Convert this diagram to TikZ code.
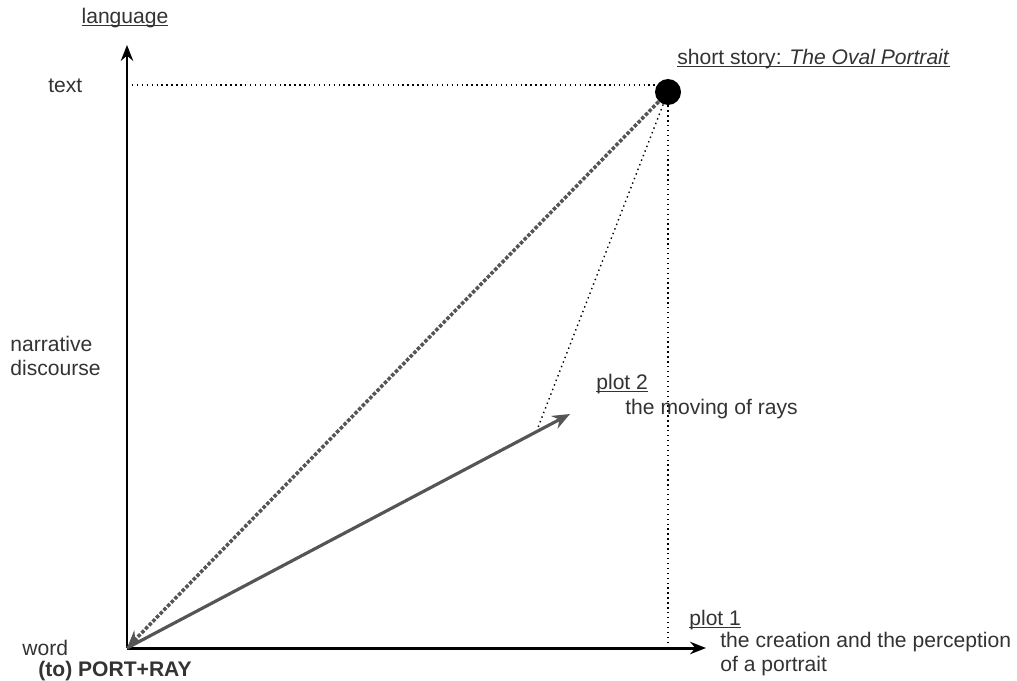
\documentclass[tikz,border=0pt]{standalone}
\usepackage{fontspec}
\setmainfont{Liberation Sans}
\usetikzlibrary{arrows.meta}
\definecolor{ink}{HTML}{333333}
\definecolor{ray}{HTML}{555555}
\newcommand{\uln}[1]{\underline{\smash{#1}}}
\tikzset{
  axis/.style={line width=1.7pt,-{Stealth[length=9pt,width=7pt]}},
  lbl/.style={font=\fontsize{12}{14}\selectfont,text=ink,inner sep=0pt,anchor=west},
  guide/.style={dotted,line width=0.8pt}
}
\begin{document}
\begin{tikzpicture}[x=0.02cm,y=-0.02cm]
   \useasboundingbox (0,0) rectangle (1017,680);
   \coordinate (O) at (127,648);
   \coordinate (ytop) at (127,45);
   \coordinate (xend) at (706,648);
   \coordinate (ytext) at (127,85);
   \coordinate (xplot) at (668,648);
   \coordinate (foot) at (537,430);
   \coordinate (p2) at (570,414);
   \node[circle,fill=black,minimum size=0.52cm,inner sep=0pt] (story) at (668,92) {};

   % axes
   \draw[axis] (O) -- (ytop);
   \draw[axis] (O) -- (xend);

   % guides from the story
   \draw[guide] (ytext) -- (story.west |- ytext);
   \draw[guide] (story) -- (xplot);
   \draw[guide] (story) -- (foot);

   % the two rays
   \draw[ray,line width=2pt,dash pattern=on 2pt off 1pt,-{Stealth[length=10pt,width=8pt]}] (story) -- (O);
   \draw[ray,line width=1.8pt,-{Stealth[length=10pt,width=8pt]}] (O) -- (p2);

   % labels
   \node[lbl,anchor=center] (lang) at (125,25) {\uln{language}};
   \node[lbl] (text) at (48,86) {text};
   \node[lbl,align=left] (narr) at (10,356) {narrative\\discourse};
   \node[lbl] (word) at (22,648) {word};
   \node[lbl,font=\fontsize{12}{14}\selectfont\bfseries] (port) at (38,671) {(to) PORT+RAY};
   \node[lbl] (title) at (677,66) {\uln{short story: \textit{The Oval Portrait}}};
   \node[lbl] (plottwo) at (596,391) {\uln{plot 2}};
   \node[lbl] (moving) at (625,409) {the moving of rays};
   \node[lbl] (plotone) at (689,627) {\uln{plot 1}};
   \node[lbl,align=left] (creation) at (720,654) {the creation and the perception\\of a portrait};
\end{tikzpicture}
\end{document}
